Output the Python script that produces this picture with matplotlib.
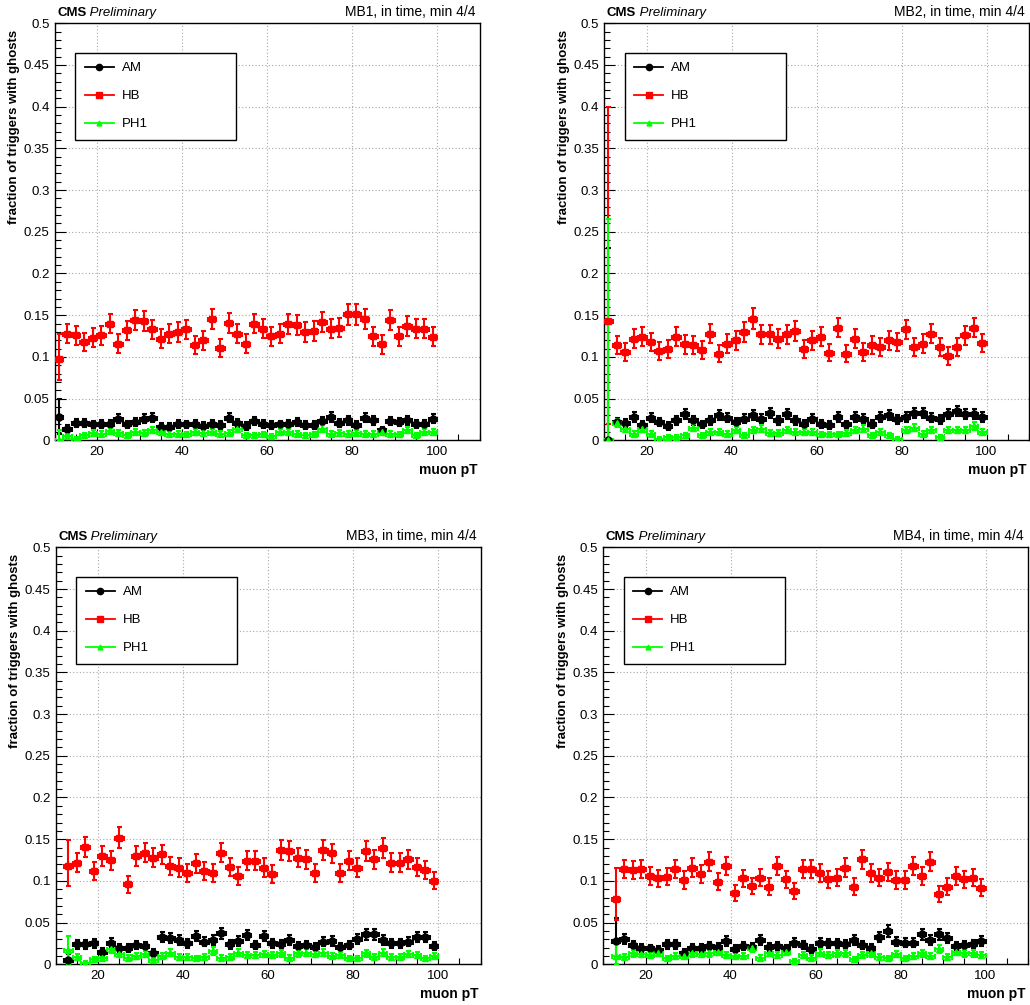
import numpy as np
import matplotlib
matplotlib.use("Agg")
import matplotlib.pyplot as plt
from matplotlib.lines import Line2D
from matplotlib.ticker import MultipleLocator, FuncFormatter

plt.rcParams['font.family'] = ['Liberation Sans', 'DejaVu Sans']

# 2 GeV muon pT bins; MB1/MB2 start at 10 GeV, MB3/MB4 at 12 GeV
pt_mb12 = np.arange(11, 100, 2)
pt_mb34 = np.arange(13, 100, 2)

# fraction of triggers with ghosts per station and algorithm
mb1_am = [0.028, 0.014, 0.021, 0.021, 0.019, 0.020, 0.020, 0.026, 0.019, 0.022, 0.026, 0.027, 0.016,
          0.016, 0.020, 0.019, 0.020, 0.017, 0.020, 0.018, 0.027, 0.021, 0.017, 0.023, 0.020,
          0.018, 0.019, 0.020, 0.022, 0.018, 0.018, 0.023, 0.028, 0.021, 0.024, 0.018, 0.027,
          0.024, 0.012, 0.023, 0.022, 0.024, 0.020, 0.020, 0.026]
mb1_hb = [0.097, 0.128, 0.126, 0.118, 0.123, 0.126, 0.140, 0.116, 0.132, 0.144, 0.143, 0.133, 0.122,
          0.128, 0.130, 0.133, 0.114, 0.120, 0.145, 0.111, 0.141, 0.128, 0.116, 0.140, 0.134,
          0.125, 0.128, 0.139, 0.138, 0.130, 0.131, 0.142, 0.134, 0.135, 0.151, 0.151, 0.145,
          0.125, 0.115, 0.144, 0.125, 0.137, 0.134, 0.134, 0.124]
mb1_ph1 = [0.000, 0.005, 0.002, 0.006, 0.009, 0.008, 0.011, 0.009, 0.006, 0.010, 0.009, 0.012, 0.010,
           0.008, 0.008, 0.007, 0.010, 0.009, 0.010, 0.008, 0.009, 0.014, 0.006, 0.006, 0.007,
           0.005, 0.010, 0.010, 0.008, 0.006, 0.007, 0.014, 0.008, 0.009, 0.008, 0.009, 0.008,
           0.008, 0.010, 0.008, 0.007, 0.012, 0.006, 0.010, 0.010]

mb2_am = [0.000, 0.022, 0.021, 0.028, 0.018, 0.027, 0.022, 0.017, 0.024, 0.032, 0.024, 0.019, 0.024,
          0.030, 0.027, 0.022, 0.026, 0.030, 0.026, 0.033, 0.024, 0.032, 0.024, 0.020, 0.026,
          0.020, 0.018, 0.028, 0.019, 0.028, 0.026, 0.020, 0.028, 0.030, 0.025, 0.028, 0.033,
          0.033, 0.027, 0.025, 0.031, 0.035, 0.032, 0.031, 0.028]
mb2_hb = [0.143, 0.114, 0.106, 0.122, 0.124, 0.118, 0.107, 0.109, 0.124, 0.115, 0.114, 0.108, 0.128,
          0.104, 0.116, 0.120, 0.130, 0.146, 0.127, 0.127, 0.122, 0.127, 0.131, 0.109, 0.120,
          0.124, 0.105, 0.135, 0.104, 0.122, 0.106, 0.114, 0.112, 0.120, 0.118, 0.133, 0.112,
          0.116, 0.128, 0.112, 0.101, 0.112, 0.126, 0.135, 0.117]
mb2_ph1 = [0.000, 0.021, 0.014, 0.008, 0.014, 0.008, 0.002, 0.004, 0.004, 0.006, 0.015, 0.006, 0.010,
           0.010, 0.008, 0.012, 0.006, 0.012, 0.014, 0.009, 0.009, 0.012, 0.010, 0.010, 0.010,
           0.007, 0.007, 0.007, 0.009, 0.012, 0.014, 0.006, 0.010, 0.006, 0.002, 0.012, 0.015,
           0.008, 0.012, 0.004, 0.012, 0.012, 0.012, 0.017, 0.010]

mb3_am = [0.005, 0.024, 0.024, 0.025, 0.015, 0.026, 0.020, 0.020, 0.023, 0.022, 0.014, 0.033, 0.031,
          0.029, 0.025, 0.034, 0.027, 0.029, 0.037, 0.024, 0.028, 0.035, 0.023, 0.034,
          0.025, 0.024, 0.029, 0.022, 0.023, 0.021, 0.027, 0.028, 0.021, 0.023, 0.030, 0.036,
          0.036, 0.029, 0.025, 0.025, 0.027, 0.033, 0.033, 0.022]
mb3_hb = [0.118, 0.122, 0.141, 0.112, 0.130, 0.125, 0.152, 0.096, 0.130, 0.134, 0.128, 0.132, 0.118,
          0.116, 0.109, 0.121, 0.112, 0.110, 0.134, 0.117, 0.106, 0.124, 0.124, 0.116,
          0.108, 0.137, 0.136, 0.128, 0.126, 0.109, 0.137, 0.133, 0.110, 0.124, 0.116, 0.136,
          0.126, 0.139, 0.122, 0.122, 0.126, 0.117, 0.113, 0.100]
mb3_ph1 = [0.017, 0.009, 0.002, 0.006, 0.007, 0.018, 0.012, 0.008, 0.010, 0.012, 0.005, 0.010, 0.014,
           0.009, 0.009, 0.007, 0.009, 0.016, 0.008, 0.009, 0.014, 0.011, 0.011, 0.012,
           0.011, 0.013, 0.008, 0.013, 0.014, 0.012, 0.014, 0.010, 0.011, 0.007, 0.007, 0.013,
           0.009, 0.014, 0.009, 0.009, 0.012, 0.011, 0.007, 0.010]

mb4_am = [0.028, 0.030, 0.023, 0.020, 0.019, 0.017, 0.024, 0.024, 0.014, 0.020, 0.020, 0.022, 0.021,
          0.028, 0.018, 0.022, 0.021, 0.029, 0.021, 0.022, 0.019, 0.026, 0.023, 0.018,
          0.026, 0.025, 0.025, 0.024, 0.029, 0.023, 0.020, 0.033, 0.040, 0.027, 0.026, 0.026,
          0.036, 0.029, 0.036, 0.031, 0.022, 0.023, 0.024, 0.028]
mb4_hb = [0.078, 0.114, 0.113, 0.114, 0.106, 0.103, 0.105, 0.114, 0.101, 0.116, 0.108, 0.123, 0.099,
          0.118, 0.086, 0.103, 0.094, 0.104, 0.093, 0.118, 0.102, 0.088, 0.114, 0.114,
          0.110, 0.102, 0.104, 0.116, 0.093, 0.126, 0.110, 0.104, 0.111, 0.101, 0.101, 0.118,
          0.106, 0.123, 0.084, 0.093, 0.106, 0.102, 0.104, 0.092]
mb4_ph1 = [0.010, 0.009, 0.013, 0.012, 0.011, 0.014, 0.007, 0.010, 0.010, 0.013, 0.012, 0.013, 0.015,
           0.011, 0.010, 0.010, 0.019, 0.008, 0.014, 0.011, 0.015, 0.004, 0.011, 0.008,
           0.014, 0.011, 0.013, 0.013, 0.006, 0.011, 0.013, 0.009, 0.007, 0.012, 0.007, 0.010,
           0.013, 0.010, 0.018, 0.009, 0.015, 0.013, 0.013, 0.011]

# confidence interval (low, high) of the sparsely populated lowest bin
mb1_first = {'AM': (0.008, 0.050), 'HB': (0.072, 0.128), 'PH1': (0.0, 0.012)}
mb2_first = {'AM': (0.0, 0.230), 'HB': (0.020, 0.400), 'PH1': (0.0, 0.265)}
mb3_first = {'AM': (0.0, 0.012), 'HB': (0.094, 0.149), 'PH1': (0.0, 0.034)}
mb4_first = {'AM': (0.008, 0.056), 'HB': (0.053, 0.115), 'PH1': (0.0, 0.025)}

station_titles = ['MB1, in time, min 4/4', 'MB2, in time, min 4/4',
                  'MB3, in time, min 4/4', 'MB4, in time, min 4/4']
algo_names = ['AM', 'HB', 'PH1']
algo_colors = {'AM': '#000000', 'HB': '#ff0000', 'PH1': '#00ff00'}
algo_markers = {'AM': 'o', 'HB': 's', 'PH1': '^'}
algo_msize = {'AM': 5.0, 'HB': 5.0, 'PH1': 4.0}

N_MUONS = 850  # muons per bin for the binomial uncertainty

panels = [
    (pt_mb12, {'AM': mb1_am, 'HB': mb1_hb, 'PH1': mb1_ph1}, mb1_first),
    (pt_mb12, {'AM': mb2_am, 'HB': mb2_hb, 'PH1': mb2_ph1}, mb2_first),
    (pt_mb34, {'AM': mb3_am, 'HB': mb3_hb, 'PH1': mb3_ph1}, mb3_first),
    (pt_mb34, {'AM': mb4_am, 'HB': mb4_hb, 'PH1': mb4_ph1}, mb4_first),
]

W, H = 1030, 1005
fig = plt.figure(figsize=(W / 100, H / 100), dpi=100)
AX_W, AX_H = 425, 417
frame_origins = [(54.5, 23.3), (604.0, 23.3), (55.5, 547.3), (603.0, 547.3)]

FS = 9.5


def draw_series(ax, x, y, limits, name):
    y = np.asarray(y, dtype=float)
    err = np.sqrt(y * (1 - y) / N_MUONS)
    lo, hi = err.copy(), err.copy()
    lo[0] = y[0] - limits[0]
    hi[0] = limits[1] - y[0]
    c = algo_colors[name]
    ax.errorbar(x, y, xerr=1.0, yerr=[lo, hi], fmt=algo_markers[name], color=c,
                mfc=c, mec=c, ms=algo_msize[name], elinewidth=1.5,
                capsize=1.8, capthick=1.5, zorder=3)


for (left, top), (x, series, first), title in zip(frame_origins, panels, station_titles):
    ax = fig.add_axes([left / W, 1 - (top + AX_H) / H, AX_W / W, AX_H / H])
    for name in algo_names:
        draw_series(ax, x, series[name], first[name], name)

    ax.set_xlim(10, 110)
    ax.set_ylim(0, 0.5)
    ax.xaxis.set_major_locator(MultipleLocator(20))
    ax.xaxis.set_minor_locator(MultipleLocator(5))
    ax.yaxis.set_major_locator(MultipleLocator(0.05))
    ax.yaxis.set_minor_locator(MultipleLocator(0.01))
    ax.xaxis.set_major_formatter(FuncFormatter(lambda v, p: '' if v < 15 or v > 105 else f'{v:g}'))
    ax.yaxis.set_major_formatter(FuncFormatter(lambda v, p: f'{round(v, 3):g}'))
    ax.tick_params(which='both', direction='in', top=False, right=False,
                   labelsize=FS, width=0.8, color='black')
    ax.tick_params(which='major', length=8)
    ax.tick_params(which='minor', length=4)
    ax.tick_params(axis='y', pad=3.5)
    ax.tick_params(axis='x', pad=4)
    ax.grid(True, which='major', color='#a8a8a8', linestyle=(0, (1, 2)), linewidth=0.8)
    ax.set_axisbelow(True)
    for sp in ax.spines.values():
        sp.set_linewidth(1.0)
        sp.set_color('black')

    ax.set_ylabel('fraction of triggers with ghosts', fontsize=FS, fontweight='bold', loc='top')
    ax.yaxis.set_label_coords(-0.08, 0.985)
    ax.set_xlabel('muon pT', fontsize=10, fontweight='bold', loc='right')
    ax.xaxis.set_label_coords(0.995, -0.055)

    cms = ax.text(0.006, 1.017, 'CMS', transform=ax.transAxes, fontsize=FS,
                  fontweight='bold', ha='left', va='baseline')
    ax.annotate(' Preliminary', xy=(1, 0), xycoords=cms, fontsize=FS,
                fontstyle='italic', ha='left', va='bottom')
    ax.text(0.99, 1.017, title, transform=ax.transAxes, fontsize=10,
            ha='right', va='baseline')

    handles = [Line2D([], [], color=algo_colors[n], marker=algo_markers[n],
                      ms=algo_msize[n] - 0.5, lw=1.3, mfc=algo_colors[n], mec=algo_colors[n])
               for n in algo_names]
    leg = ax.legend(handles, algo_names, loc='upper left',
                    bbox_to_anchor=(0.049, 0.0, 0.379, 0.9295), mode='expand',
                    borderaxespad=0, fontsize=FS, handlelength=2.2, handletextpad=0.6,
                    borderpad=0.7, labelspacing=1.2, fancybox=False, framealpha=1,
                    edgecolor='black')
    leg.get_frame().set_linewidth(1.0)
    leg.set_zorder(5)

fig.savefig('out.png', dpi=100)
